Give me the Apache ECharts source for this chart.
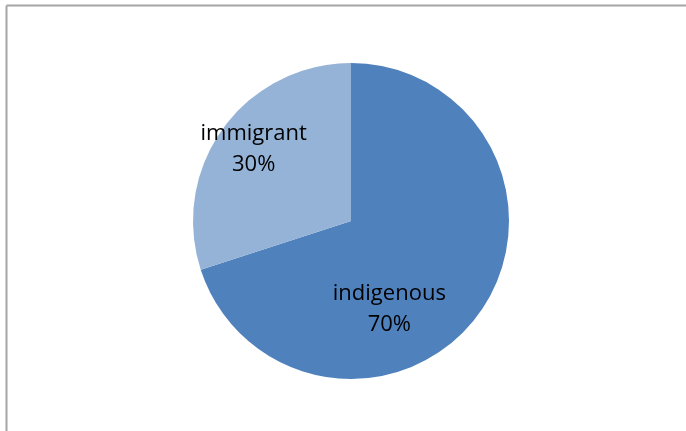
<!DOCTYPE html>
<html><head><meta charset="utf-8">
<script src="https://cdn.jsdelivr.net/npm/echarts@6/dist/echarts.min.js"></script>
<style>html,body{margin:0;padding:0;background:#fff}#c{width:686px;height:431px}</style>
</head><body><div id="c"></div>
<script>
const categories = ['indigenous', 'immigrant'];
const values = [70, 30];
const colors = ['#4F81BD', '#95B3D7'];
const labelShift = [[-28, 40], [-31, -24]];

const chart = echarts.init(document.getElementById('c'), null, {renderer: 'canvas'});
chart.setOption({
  animation: false,
  backgroundColor: '#fff',
  graphic: [
    {type: 'line', shape: {x1: 6.5, y1: 5.5, x2: 686, y2: 5.5}, style: {stroke: '#a6a6a6', lineWidth: 2}},
    {type: 'line', shape: {x1: 6.5, y1: 5.5, x2: 6.5, y2: 431}, style: {stroke: '#a6a6a6', lineWidth: 2}}
  ],
  series: [{
    type: 'pie',
    center: [351, 221],
    radius: 158,
    startAngle: 90,
    clockwise: true,
    data: categories.map((n, i) => ({name: n, value: values[i], itemStyle: {color: colors[i]}})),
    itemStyle: {borderColor: '#fff', borderWidth: 0},
    label: {
      show: true,
      position: 'inside',
      formatter: '{b}\n{d}%',
      fontFamily: 'Open Sans',
      fontSize: 22,
      lineHeight: 31,
      color: '#000'
    },
    labelLayout: function (p) { const s = labelShift[p.dataIndex]; return {dx: s[0], dy: s[1]}; },
    labelLine: {show: false},
    emphasis: {disabled: true}
  }]
});
</script></body></html>
